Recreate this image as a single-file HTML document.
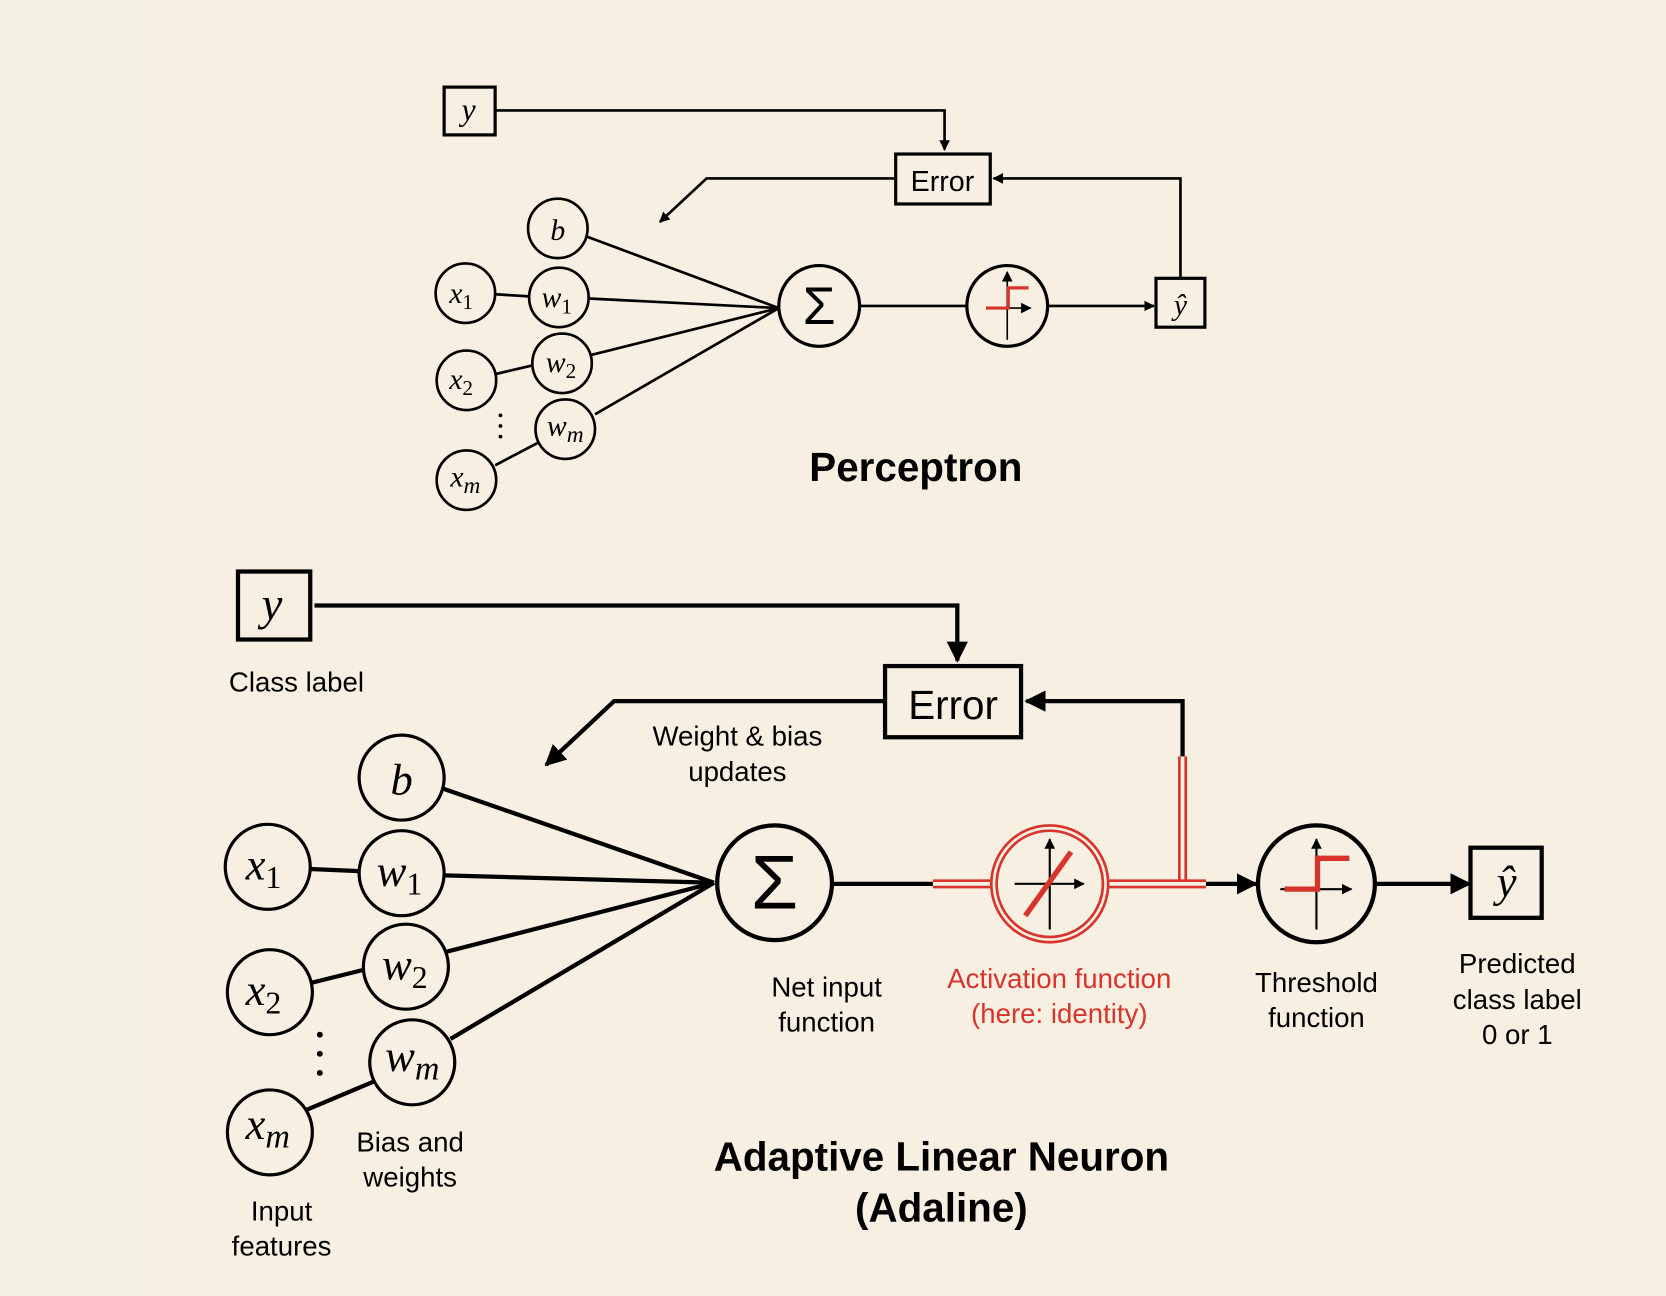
<!DOCTYPE html>
<html><head><meta charset="utf-8"><style>
html,body{margin:0;padding:0;background:#f6efe2;}
svg{display:block}
.t{font-family:"Liberation Sans",sans-serif;}
.m{font-family:"Liberation Serif",serif;font-style:italic;}
</style></head><body>
<svg width="1666" height="1296" viewBox="0 0 1568 1220" preserveAspectRatio="none" xmlns="http://www.w3.org/2000/svg">
<defs>
<marker id="a" markerWidth="10" markerHeight="10" refX="9" refY="5" orient="auto" markerUnits="userSpaceOnUse"><path d="M0,0 L10,5 L0,10 z" fill="#000"/></marker>
<marker id="A" markerWidth="20" markerHeight="20" refX="18" refY="10" orient="auto" markerUnits="userSpaceOnUse"><path d="M0,0 L20,10 L0,20 z" fill="#000"/></marker>
</defs>
<rect x="0" y="0" width="1568" height="1220" fill="#f6efe2"/>
<rect x="0" y="0" width="139" height="1220" fill="#f5f0e4"/>
<g stroke="#000" fill="none" stroke-width="2.5">
<!-- Perceptron -->
<rect x="418" y="82" width="48" height="45" stroke-width="3"/>
<polyline points="466,104 889,104 889,141" marker-end="url(#a)"/>
<rect x="843" y="145" width="89" height="47" stroke-width="3"/>
<polyline points="1111,262 1111,168 935,168" marker-end="url(#a)"/>
<polyline points="843,168 665,168 621,209" marker-end="url(#a)"/>
<line x1="553" y1="223" x2="733" y2="290"/>
<line x1="554" y1="281" x2="733" y2="290"/>
<line x1="557" y1="334" x2="733" y2="290"/>
<line x1="560" y1="390" x2="733" y2="290"/>
<line x1="466" y1="277" x2="498" y2="279"/>
<line x1="467" y1="352" x2="501" y2="344"/>
<line x1="466" y1="438" x2="506" y2="417"/>
<circle cx="525" cy="215" r="28"/><circle cx="438" cy="276" r="28"/><circle cx="526" cy="280" r="28"/>
<circle cx="439" cy="358" r="28"/><circle cx="529" cy="342" r="28"/><circle cx="532" cy="404" r="28"/><circle cx="439" cy="452" r="28"/>
<circle cx="771" cy="288" r="38" stroke-width="3"/>
<line x1="809" y1="288" x2="910" y2="288"/>
<circle cx="948" cy="288" r="38" stroke-width="3"/>
<line x1="986" y1="288" x2="1086" y2="288" marker-end="url(#a)"/>
<rect x="1088" y="262" width="46" height="46" stroke-width="3"/>
<line x1="948" y1="320" x2="948" y2="256" stroke-width="1.5" marker-end="url(#a)"/>
<line x1="930" y1="290" x2="970" y2="290" stroke-width="1.5" marker-end="url(#a)"/>
<polyline points="928,290 949,290 949,271 968,271" stroke="#d9342b" stroke-width="3"/>
<!-- Adaline -->
<rect x="224" y="538" width="68" height="64" stroke-width="4"/>
<polyline points="296,570 901,570 901,622" stroke-width="4" marker-end="url(#A)"/>
<rect x="833" y="627" width="128" height="67" stroke-width="4"/>
<polyline points="1113,712 1113,660 966,660" stroke-width="4" marker-end="url(#A)"/>
<polyline points="833,660 578,660 514,720" stroke-width="4" marker-end="url(#A)"/>
<line x1="416" y1="742" x2="672" y2="831" stroke-width="4"/>
<line x1="418" y1="824" x2="672" y2="831" stroke-width="4"/>
<line x1="420" y1="896" x2="672" y2="831" stroke-width="4"/>
<line x1="424" y1="978" x2="672" y2="831" stroke-width="4"/>
<line x1="292" y1="818" x2="338" y2="820" stroke-width="4"/>
<line x1="294" y1="925" x2="342" y2="913" stroke-width="4"/>
<line x1="288" y1="1045" x2="352" y2="1018" stroke-width="4"/>
<circle cx="378" cy="732" r="40" stroke-width="3"/><circle cx="252" cy="816" r="40" stroke-width="3"/><circle cx="378" cy="822" r="40" stroke-width="3"/>
<circle cx="254" cy="934" r="40" stroke-width="3"/><circle cx="382" cy="910" r="40" stroke-width="3"/><circle cx="388" cy="1000" r="40" stroke-width="3"/><circle cx="254" cy="1066" r="40" stroke-width="3"/>
<circle cx="729" cy="831" r="54" stroke-width="4"/>
<line x1="783" y1="832" x2="878" y2="832" stroke-width="4"/>
<line x1="1135" y1="832" x2="1182" y2="832" stroke-width="4" marker-end="url(#A)"/>
<circle cx="1239" cy="832" r="55" stroke-width="4"/>
<line x1="1294" y1="832" x2="1383" y2="832" stroke-width="4" marker-end="url(#A)"/>
<rect x="1384" y="798" width="67" height="66" stroke-width="4"/>
<line x1="988" y1="875" x2="988" y2="790" stroke-width="2" marker-end="url(#a)"/>
<line x1="955" y1="832" x2="1020" y2="832" stroke-width="2" marker-end="url(#a)"/>
<line x1="1239" y1="875" x2="1239" y2="790" stroke-width="2" marker-end="url(#a)"/>
<line x1="1205" y1="837" x2="1272" y2="837" stroke-width="2" marker-end="url(#a)"/>
</g>
<g stroke="#d9342b" fill="none">
<circle cx="988" cy="832" r="55" stroke-width="2.5"/><circle cx="988" cy="832" r="50" stroke-width="2.5"/>
<path d="M878,829H932M878,835H932M1044,829H1135M1044,835H1135M1110,712V829M1116,712V829" stroke-width="2.5"/>
<line x1="965" y1="862" x2="1008" y2="802" stroke-width="5"/>
<polyline points="1209,837 1240,837 1240,808 1270,808" stroke-width="5"/>
</g>
<g fill="#000">
<circle cx="471" cy="391" r="1.8"/><circle cx="471" cy="401" r="1.8"/><circle cx="471" cy="411" r="1.8"/>
<circle cx="301" cy="974" r="2.8"/><circle cx="301" cy="992" r="2.8"/><circle cx="301" cy="1010" r="2.8"/>
</g>
<g class="m" text-anchor="middle" fill="#000">
<text x="441" y="113" font-size="30">y</text>
<text x="525" y="226" font-size="28">b</text>
<text x="434" y="285" font-size="28">x<tspan font-size="20" font-style="normal" dy="6">1</tspan></text>
<text x="524" y="289" font-size="28">w<tspan font-size="20" font-style="normal" dy="6">1</tspan></text>
<text x="434" y="366" font-size="28">x<tspan font-size="20" font-style="normal" dy="6">2</tspan></text>
<text x="528" y="350" font-size="28">w<tspan font-size="20" font-style="normal" dy="6">2</tspan></text>
<text x="532" y="410" font-size="28">w<tspan font-size="22" dy="6">m</tspan></text>
<text x="438" y="458" font-size="28">x<tspan font-size="22" dy="6">m</tspan></text>
<text x="1111" y="296" font-size="28">ŷ</text>
<text x="256" y="583" font-size="44">y</text>
<text x="378" y="748" font-size="42">b</text>
<text x="248" y="828" font-size="42">x<tspan font-size="30" font-style="normal" dy="8">1</tspan></text>
<text x="376" y="834" font-size="42">w<tspan font-size="30" font-style="normal" dy="8">1</tspan></text>
<text x="248" y="946" font-size="42">x<tspan font-size="30" font-style="normal" dy="8">2</tspan></text>
<text x="381" y="922" font-size="42">w<tspan font-size="30" font-style="normal" dy="8">2</tspan></text>
<text x="388" y="1008" font-size="42">w<tspan font-size="32" dy="8">m</tspan></text>
<text x="252" y="1072" font-size="42">x<tspan font-size="32" dy="8">m</tspan></text>
<text x="1418" y="844" font-size="42">ŷ</text>
</g>
<g class="t" text-anchor="middle" fill="#000">
<text x="771" y="305" font-size="50">Σ</text>
<text x="729" y="855" font-size="72">Σ</text>
<text x="887" y="180" font-size="27">Error</text>
<text x="897" y="677" font-size="38">Error</text>
<text x="862" y="453" font-size="38" font-weight="bold">Perceptron</text>
<text x="279" y="651" font-size="26">Class label</text>
<text x="694" y="702" font-size="26">Weight &amp; bias</text>
<text x="694" y="735" font-size="26">updates</text>
<text x="778" y="938" font-size="26">Net input</text>
<text x="778" y="971" font-size="26">function</text>
<text x="997" y="930" font-size="26" fill="#d9342b">Activation function</text>
<text x="997" y="963" font-size="26" fill="#d9342b">(here: identity)</text>
<text x="1239" y="934" font-size="26">Threshold</text>
<text x="1239" y="967" font-size="26">function</text>
<text x="1428" y="916" font-size="26">Predicted</text>
<text x="1428" y="950" font-size="26">class label</text>
<text x="1428" y="983" font-size="26">0 or 1</text>
<text x="386" y="1084" font-size="26">Bias and</text>
<text x="386" y="1117" font-size="26">weights</text>
<text x="265" y="1149" font-size="26">Input</text>
<text x="265" y="1182" font-size="26">features</text>
<text x="886" y="1102" font-size="38" font-weight="bold">Adaptive Linear Neuron</text>
<text x="886" y="1150" font-size="38" font-weight="bold">(Adaline)</text>
</g>
</svg>
</body></html>
